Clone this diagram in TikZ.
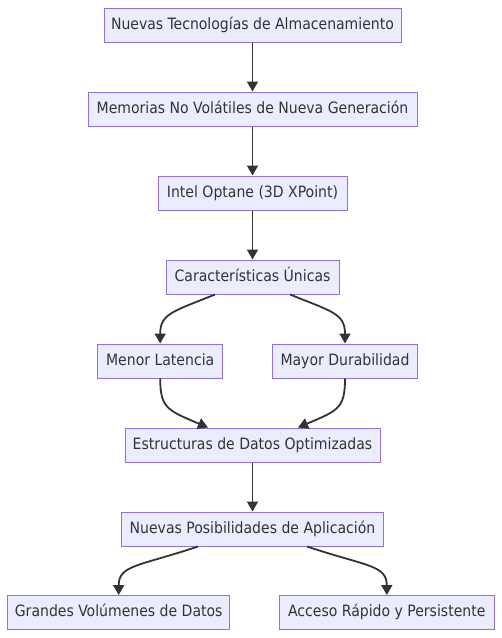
\documentclass[tikz,border=0pt]{standalone}
\usepackage{fontspec}
\setmainfont{DejaVu Sans Condensed}
\usetikzlibrary{arrows.meta}
\definecolor{boxfill}{HTML}{ECECFF}
\definecolor{boxline}{HTML}{9370DB}
\definecolor{ink}{HTML}{333333}
\begin{document}
\begin{tikzpicture}[x=1pt,y=-1pt,
  box/.style={draw=boxline, fill=boxfill, line width=1pt, text=ink,
    font=\fontsize{15.6}{18}\selectfont, inner sep=0pt, minimum height=34pt,
    text height=11.5pt, text depth=3pt},
  link/.style={draw=ink, line width=1.8pt, -{Triangle[length=10pt,width=11pt]}}]
\useasboundingbox (0,0) rectangle (502,638);
\node[box, minimum width=297pt] (n1) at (252.5,25) {Nuevas Tecnologías de Almacenamiento};
\node[box, minimum width=329pt] (n2) at (252.5,109) {Memorias No Volátiles de Nueva Generación};
\node[box, minimum width=189pt] (n3) at (252.5,193) {Intel Optane (3D XPoint)};
\node[box, minimum width=173pt] (n4) at (252.5,277) {Características Únicas};
\node[box, minimum width=125pt] (n5) at (160.2,361) {Menor Latencia};
\node[box, minimum width=145pt] (n6) at (345,361) {Mayor Durabilidad};
\node[box, minimum width=255pt] (n7) at (252.5,445) {Estructuras de Datos Optimizadas};
\node[box, minimum width=262pt] (n8) at (252.5,529) {Nuevas Posibilidades de Aplicación};
\node[box, minimum width=222pt] (n9) at (118.7,612.5) {Grandes Volúmenes de Datos};
\node[box, minimum width=215pt] (n10) at (386.8,612.5) {Acceso Rápido y Persistente};

\draw[link] (n1) -- (n2);
\draw[link] (n2) -- (n3);
\draw[link] (n3) -- (n4);
\draw[link] ([xshift=-37.5pt]n4.south) .. controls +(-42,17) and +(0,-30) .. (n5.north);
\draw[link] ([xshift=37.5pt]n4.south) .. controls +(42,17) and +(0,-30) .. (n6.north);
\draw[link] (n5.south) .. controls +(0,30) and +(-40,-17) .. ([xshift=-44.5pt]n7.north);
\draw[link] (n6.south) .. controls +(0,30) and +(40,-17) .. ([xshift=45.5pt]n7.north);
\draw[link] (n7) -- (n8);
\draw[link] ([xshift=-54.5pt]n8.south) .. controls +(-60,20) and +(0,-30) .. (n9.north);
\draw[link] ([xshift=54.5pt]n8.south) .. controls +(60,20) and +(0,-30) .. (n10.north);
\end{tikzpicture}
\end{document}
